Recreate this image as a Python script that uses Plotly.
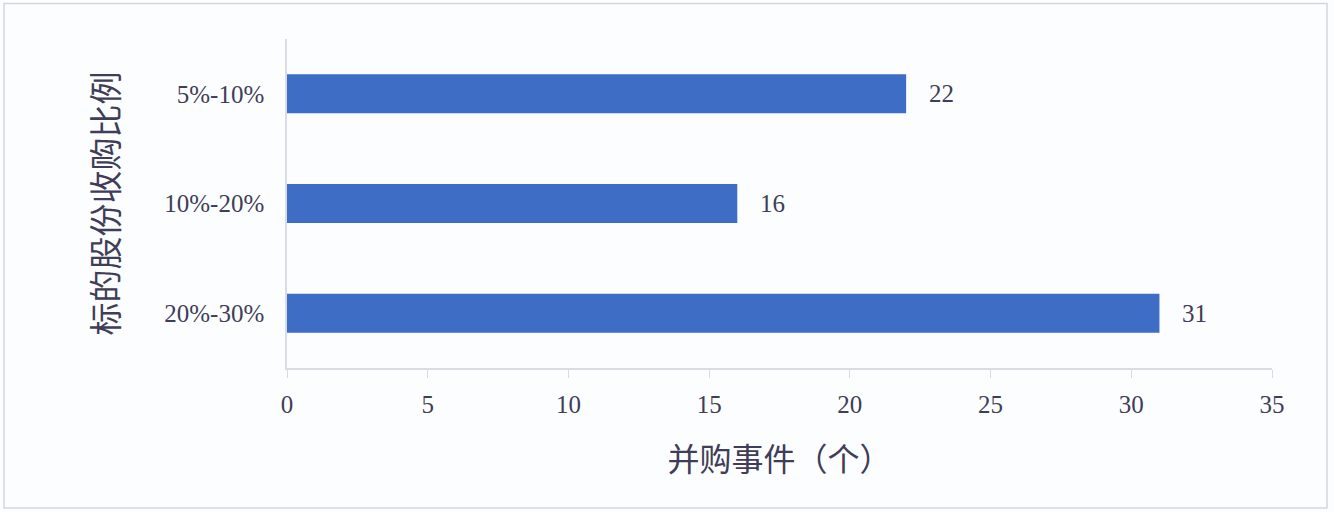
import plotly.graph_objects as go

# data
categories = ["20%-30%", "10%-20%", "5%-10%"]
deal_counts = [31, 16, 22]
x_ticks = [0, 5, 10, 15, 20, 25, 30, 35]

_BAR = "#3d6dc5"
_TEXT = "#3f3d58"
_AXIS = "#d9dce3"
_BG = "#fcfdfe"
_FONT = "Liberation Serif, Noto Sans CJK SC, serif"

fig = go.Figure()
fig.add_trace(
    go.Bar(
        y=categories,
        x=deal_counts,
        orientation="h",
        width=0.355,
        marker=dict(color=_BAR, line=dict(width=0)),
        hoverinfo="skip",
    )
)

# value labels sit a little right of each bar end
for cat, val in zip(categories, deal_counts):
    fig.add_annotation(
        x=val, y=cat, text=str(val), showarrow=False,
        xanchor="left", xshift=21,
        font=dict(family=_FONT, size=25, color=_TEXT),
    )

# light frame round the whole picture
fig.add_shape(
    type="rect", xref="paper", yref="paper",
    x0=-0.2873, x1=1.0558, y0=-0.4258, y1=1.1076,
    line=dict(color="#d4d6da", width=1.5), layer="below",
)

fig.update_layout(
    width=1334,
    height=512,
    paper_bgcolor=_BG,
    plot_bgcolor=_BG,
    margin=dict(l=287, r=62, t=38.5, b=143.5),
    font=dict(family=_FONT, color=_TEXT, size=24),
    showlegend=False,
    xaxis=dict(
        range=[0, 35],
        tickvals=x_ticks,
        showgrid=False,
        zeroline=False,
        showline=True,
        linecolor=_AXIS,
        linewidth=1.5,
        ticks="outside",
        ticklen=8,
        tickcolor=_AXIS,
        tickfont=dict(size=25, color=_TEXT),
        ticklabelstandoff=5,
        title=dict(text="并购事件（个）", font=dict(size=32, color=_TEXT), standoff=32),
    ),
    yaxis=dict(
        showgrid=False,
        zeroline=False,
        showline=True,
        linecolor=_AXIS,
        linewidth=1.5,
        ticks="",
        tickfont=dict(size=25, color=_TEXT),
        ticklabelstandoff=16,
        title=dict(text="标的股份收购比例", font=dict(size=33, color=_TEXT), standoff=36),
    ),
)

fig.write_html(
    "out.html",
    config={"displayModeBar": False},
    post_script="document.body.style.margin='0';",
)
